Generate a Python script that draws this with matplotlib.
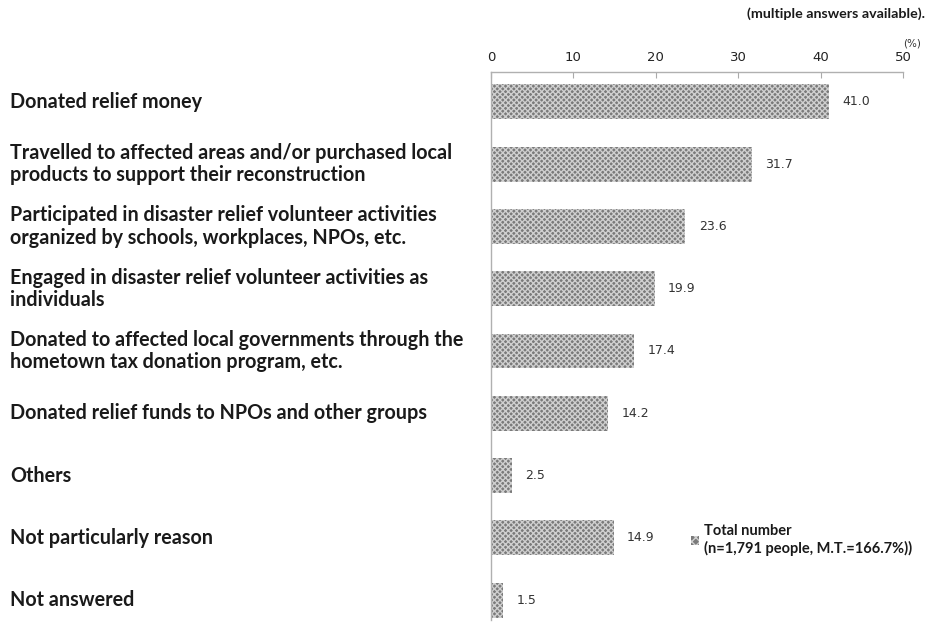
import matplotlib
matplotlib.use("Agg")
import matplotlib.pyplot as plt
from matplotlib.patches import Patch

categories = [
    "Donated relief money",
    "Travelled to affected areas and/or purchased local\nproducts to support their reconstruction",
    "Participated in disaster relief volunteer activities\norganized by schools, workplaces, NPOs, etc.",
    "Engaged in disaster relief volunteer activities as\nindividuals",
    "Donated to affected local governments through the\nhometown tax donation program, etc.",
    "Donated relief funds to NPOs and other groups",
    "Others",
    "Not particularly reason",
    "Not answered",
]
values = [41.0, 31.7, 23.6, 19.9, 17.4, 14.2, 2.5, 14.9, 1.5]
xticks = [0, 10, 20, 30, 40, 50]
legend_label = "Total number\n(n=1,791 people, M.T.=166.7%))"
note = "(multiple answers available)."

W, H = 933, 622
fig = plt.figure(figsize=(W / 100, H / 100), dpi=100)
ax = fig.add_axes([491 / W, 1 - 620 / H, (903 - 491) / W, (620 - 72) / H])

plt.rcParams["hatch.linewidth"] = 1.0
bar_face = "#7a7a7a"
bar_hatch = "#cfcfcf"
ypos = list(range(len(values)))
ax.barh(ypos, values, height=0.56, color=bar_face,
        edgecolor=bar_hatch, linewidth=0, hatch="xxxxxx")

ax.set_xlim(0, 50)
ax.set_ylim(8.32, -0.48)
ax.xaxis.tick_top()
ax.set_xticks(xticks)
ax.set_xticklabels([str(t) for t in xticks], family="DejaVu Sans",
                   fontsize=9.5, color="#222")
ax.tick_params(axis="x", direction="in", length=4, color="#aaa", pad=6)
ax.set_yticks([])
for s in ["right", "bottom"]:
    ax.spines[s].set_visible(False)
for s in ["top", "left"]:
    ax.spines[s].set_color("#b0b0b0")
    ax.spines[s].set_linewidth(1.0)

for y, v in zip(ypos, values):
    ax.annotate(f"{v:.1f}", (v, y), xytext=(9.5, 0), textcoords="offset points",
                va="center", ha="left", fontsize=9, color="#333",
                family="DejaVu Sans")

for y, lab in zip(ypos, categories):
    ax.annotate(lab, xy=(10 / W, y), xycoords=("figure fraction", "data"),
                va="center", ha="left", fontsize=14.2, fontweight="bold",
                family="Lato", color="#1a1a1a", linespacing=1.15,
                annotation_clip=False)

fig.text(912 / W, 1 - 44 / H, "(%)", fontsize=7.5, color="#333",
         family="DejaVu Sans", ha="center", va="center")
fig.text(925 / W, 1 - 14 / H, note, fontsize=10.3, fontweight="bold",
         family="Lato", ha="right", va="center", color="#1a1a1a")

leg = ax.legend([Patch(facecolor=bar_face, edgecolor=bar_hatch, hatch="xxxx",
                       linewidth=0)], [legend_label],
                loc="center left", bbox_to_anchor=(678 / W, 1 - 540 / H),
                bbox_transform=fig.transFigure, frameon=False,
                handlelength=0.55, handleheight=0.55, handletextpad=0.35,
                prop={"family": "Lato", "weight": "bold", "size": 10.5})
for t in leg.get_texts():
    t.set_color("#1a1a1a")

fig.savefig("out.png", dpi=100, facecolor="white")
